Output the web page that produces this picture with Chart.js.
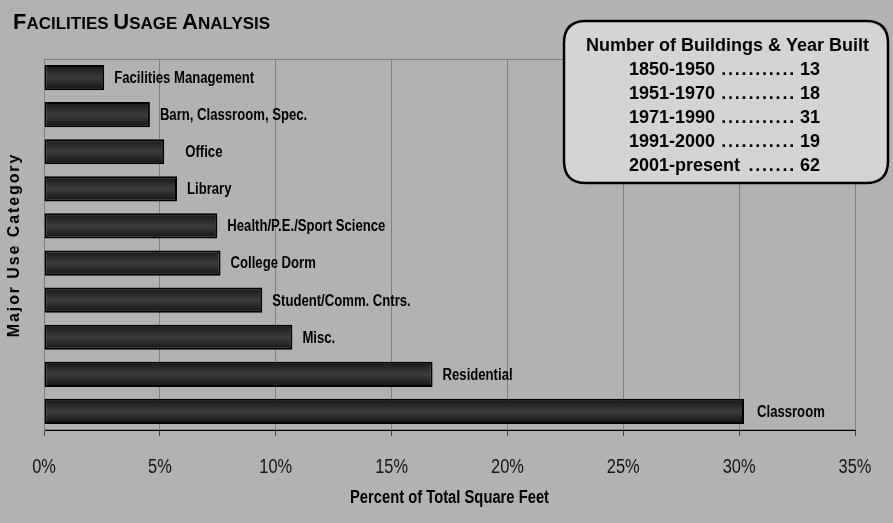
<!DOCTYPE html>
<html><head><meta charset="utf-8">
<script src="https://cdn.jsdelivr.net/npm/chart.js@4"></script>
<style>html,body{margin:0;padding:0;background:#b2b2b2;} #wrap{width:893px;height:523px;position:relative}</style>
</head><body><div id="wrap"><canvas id="c" width="893" height="523"></canvas></div>
<script>
const categories = ['Facilities Management','Barn, Classroom, Spec.','Office','Library','Health/P.E./Sport Science','College Dorm','Student/Comm. Cntrs.','Misc.','Residential','Classroom'];
const percentSqFt = [2.6, 4.57, 5.19, 5.74, 7.48, 7.62, 9.42, 10.72, 16.77, 30.21];
const xTicks = [0, 5, 10, 15, 20, 25, 30, 35];
const yearRanges = ['1850-1950','1951-1970','1971-1990','1991-2000','2001-present'];
const buildingCounts = [13, 18, 31, 19, 62];
const chartTitle = ['F','ACILITIES',' ','U','SAGE',' ','A','NALYSIS'];
const legendTitle = 'Number of Buildings & Year Built';
const xTitle = 'Percent of Total Square Feet';
const yTitle = 'Major Use Category';

const SANS = "'Liberation Sans',Arial,sans-serif";
const NARROW_SCALE = 0.82;

function narrowText(ctx, text, x, y, align, font) {
  ctx.save();
  ctx.font = font;
  ctx.translate(x, y);
  ctx.scale(NARROW_SCALE, 1);
  ctx.textAlign = align;
  ctx.fillText(text, 0, 0);
  ctx.restore();
}

function roundRect(ctx, x, y, w, h, r) {
  ctx.beginPath();
  ctx.moveTo(x + r, y);
  ctx.lineTo(x + w - r, y); ctx.quadraticCurveTo(x + w, y, x + w, y + r);
  ctx.lineTo(x + w, y + h - r); ctx.quadraticCurveTo(x + w, y + h, x + w - r, y + h);
  ctx.lineTo(x + r, y + h); ctx.quadraticCurveTo(x, y + h, x, y + h - r);
  ctx.lineTo(x, y + r); ctx.quadraticCurveTo(x, y, x + r, y);
  ctx.closePath();
}

const decor = {
  id: 'decor',
  beforeDraw(chart) {
    const ctx = chart.ctx;
    ctx.save();
    ctx.fillStyle = '#b2b2b2';
    ctx.fillRect(0, 0, chart.width, chart.height);
    ctx.restore();
  },
  beforeDatasetsDraw(chart) {
    const ctx = chart.ctx;
    const a = chart.chartArea;
    ctx.save();
    ctx.strokeStyle = '#808080';
    ctx.lineWidth = 1;
    ctx.strokeRect(a.left + 0.5, a.top + 0.5, a.right - a.left, a.bottom - a.top - 1);
    ctx.restore();
    const meta = chart.getDatasetMeta(0);
    meta.data.forEach(el => {
      const top = el.y - el.height / 2, bot = el.y + el.height / 2;
      const g = ctx.createLinearGradient(0, top, 0, bot);
      g.addColorStop(0, '#161616');
      g.addColorStop(0.5, '#3c3c3c');
      g.addColorStop(1, '#121212');
      el.options.backgroundColor = g;
    });
  },
  afterDatasetsDraw(chart, args, opts) {
    const ctx = chart.ctx;
    const meta = chart.getDatasetMeta(0);
    ctx.save();
    ctx.fillStyle = '#000';
    ctx.textBaseline = 'middle';
    meta.data.forEach((el, i) => {
      const gap = (opts.gaps && opts.gaps[i] != null) ? opts.gaps[i] : 10;
      narrowText(ctx, chart.data.labels[i], el.x + gap, el.y + 1, 'left', 'bold 16px ' + SANS);
    });
    ctx.restore();
  },
  afterDraw(chart) {
    const ctx = chart.ctx;
    const a = chart.chartArea;
    const xs = chart.scales.x;
    ctx.save();
    ctx.fillStyle = '#000';
    ctx.textBaseline = 'alphabetic';
    // x tick labels (positions from the library's scale)
    ctx.fillStyle = '#151515';
    xs.ticks.forEach(t => {
      narrowText(ctx, t.value + '%', xs.getPixelForValue(t.value), 473, 'center', '20px ' + SANS);
    });
    ctx.fillStyle = '#000';
    // Title (small caps)
    ctx.textAlign = 'left';
    let x = 13;
    chartTitle.forEach((part, i) => {
      const big = i % 3 === 0;
      ctx.font = 'bold ' + (big ? 22 : 17) + 'px ' + SANS;
      ctx.fillText(part, x, 29);
      x += ctx.measureText(part).width;
    });
    // x title
    narrowText(ctx, xTitle, (a.left + a.right) / 2, 503, 'center', 'bold 18px ' + SANS);
    // y title
    ctx.save();
    ctx.translate(19, 246);
    ctx.rotate(-Math.PI / 2);
    ctx.font = 'bold 16px ' + SANS;
    ctx.letterSpacing = '1.9px';
    ctx.textAlign = 'center';
    ctx.fillText(yTitle, 1, 0);
    ctx.restore();
    // legend box
    roundRect(ctx, 564, 21, 324, 162, 22);
    ctx.fillStyle = '#d4d4d4';
    ctx.fill();
    ctx.lineWidth = 2.5;
    ctx.strokeStyle = '#000';
    ctx.stroke();
    ctx.fillStyle = '#000';
    ctx.font = 'bold 18px ' + SANS;
    ctx.textAlign = 'center';
    ctx.fillText(legendTitle, 727.5, 51);
    yearRanges.forEach((r, i) => {
      const yb = 75 + i * 24;
      ctx.font = 'bold 18px ' + SANS;
      ctx.textAlign = 'left';
      ctx.fillText(r, 629, yb);
      const lw = ctx.measureText(r).width;
      ctx.textAlign = 'right';
      const num = String(buildingCounts[i]);
      ctx.fillText(num, 820, yb);
      const nw = ctx.measureText(num).width;
      ctx.textAlign = 'left';
      const start = 629 + lw + 4, end = 820 - nw - 5;
      const step = 6.8;
      const n = Math.floor((end - start) / step);
      ctx.letterSpacing = (step - ctx.measureText('.').width) + 'px';
      ctx.fillText('.'.repeat(n), end - n * step + 1, yb);
      ctx.letterSpacing = '0px';
    });
    ctx.restore();
  }
};

new Chart(document.getElementById('c'), {
  type: 'bar',
  data: {
    labels: categories,
    datasets: [{
      data: percentSqFt,
      backgroundColor: () => '#2a2a2a',
      borderColor: '#000',
      borderWidth: 2,
      borderSkipped: false,
      barPercentage: 0.68,
      categoryPercentage: 1
    }]
  },
  options: {
    indexAxis: 'y',
    responsive: false,
    animation: false,
    devicePixelRatio: 1,
    layout: { padding: { left: 44, right: 38, top: 59, bottom: 0 } },
    plugins: {
      legend: { display: false },
      tooltip: { enabled: false },
      title: { display: false },
      decor: { gaps: { 2: 21, 9: 13 } }
    },
    scales: {
      x: {
        type: 'linear',
        min: xTicks[0],
        max: xTicks[xTicks.length - 1],
        afterBuildTicks: s => { s.ticks = xTicks.map(v => ({ value: v })); },
        afterFit: s => { s.height = 93; },
        ticks: { display: false },
        grid: { color: '#808080', lineWidth: 1, tickLength: 6, tickColor: '#444' },
        border: { color: '#000', width: 1 }
      },
      y: {
        afterFit: s => { s.width = 0; },
        ticks: { display: false },
        grid: { display: false },
        border: { color: '#808080', width: 1 }
      }
    }
  },
  plugins: [decor]
});
</script>
</body></html>
